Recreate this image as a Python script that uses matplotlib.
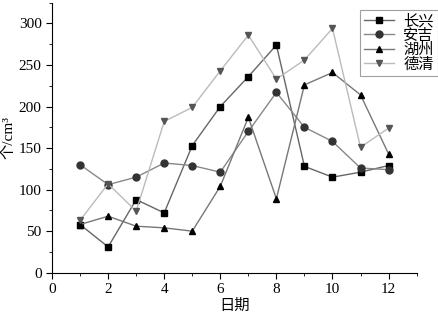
import matplotlib
matplotlib.use("Agg")
import matplotlib.pyplot as plt
from matplotlib.ticker import MultipleLocator

plt.rcParams["font.family"] = ["Liberation Serif", "Noto Sans CJK SC"]

days = [1, 2, 3, 4, 5, 6, 7, 8, 9, 10, 11, 12]
changxing = [58, 31, 88, 72, 153, 200, 236, 274, 128, 115, 121, 129]
anji = [130, 106, 115, 132, 129, 121, 170, 217, 175, 158, 126, 124]
huzhou = [58, 68, 56, 54, 50, 104, 187, 89, 226, 241, 214, 143]
deqing = [63, 107, 74, 182, 199, 243, 286, 233, 256, 294, 151, 174]

series = [
    ("长兴", changxing, "s", "black", "#666666"),
    ("安吉", anji, "o", "#333333", "#888888"),
    ("湖州", huzhou, "^", "black", "#777777"),
    ("德清", deqing, "v", "#555555", "#bbbbbb"),
]

fig = plt.figure(figsize=(4.39, 3.14), dpi=100)
ax = fig.add_axes([0.1185, 0.1315, 0.8305, 0.86])

for name, vals, marker, mcolor, lcolor in series:
    ax.plot(days, vals, color=lcolor, linewidth=1.0, marker=marker,
            markersize=5, markerfacecolor=mcolor, markeredgecolor=mcolor,
            label=name)

ax.set_xlim(0, 13)
ax.set_ylim(0, 325)
ax.xaxis.set_major_locator(MultipleLocator(2))
ax.xaxis.set_minor_locator(MultipleLocator(1))
ax.yaxis.set_major_locator(MultipleLocator(50))
ax.yaxis.set_minor_locator(MultipleLocator(25))
ax.spines["top"].set_visible(False)
ax.spines["right"].set_visible(False)
ax.tick_params(which="major", direction="out", length=4, labelsize=11)
ax.tick_params(which="minor", direction="out", length=2)

ax.set_xlabel("日期", fontsize=11, labelpad=2)
ax.set_ylabel("个/cm³", fontsize=11, labelpad=2)

leg = ax.legend(loc="upper right", bbox_to_anchor=(0.997, 1 - 10 / 314),
                bbox_transform=fig.transFigure, fontsize=11,
                frameon=True, fancybox=False, edgecolor="#888888",
                borderpad=0.25, labelspacing=0.02, handlelength=2.0,
                handletextpad=0.6, borderaxespad=0)
leg.get_frame().set_linewidth(0.8)

fig.savefig("out.png", dpi=100)
